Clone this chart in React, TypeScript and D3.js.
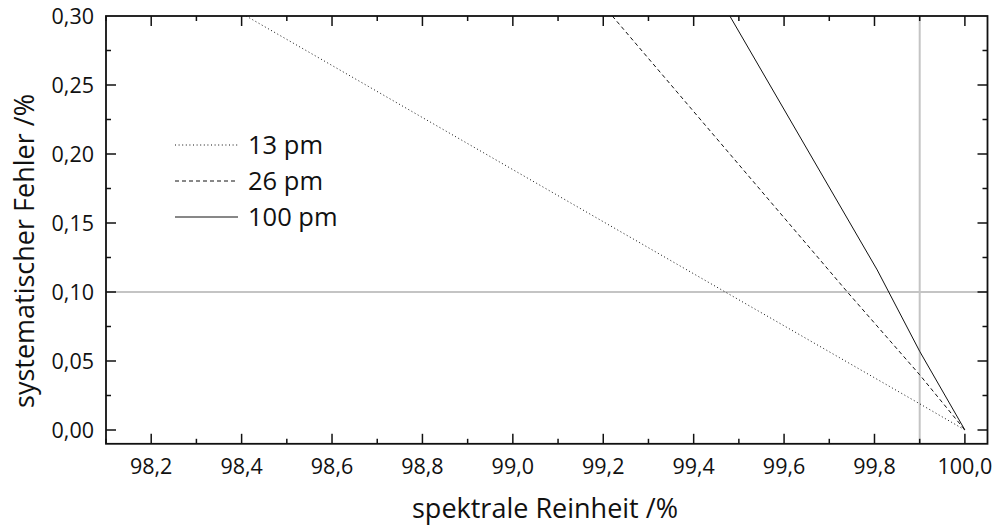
import React from "react";
import * as d3 from "d3";

// Reinheit (x) und Fehler (y), Werte aus dem Bild gelesen
const purity13 = [98.41, 99.47, 99.9, 100.0];
const error13 = [0.3, 0.1, 0.019, 0.0];
const purity26 = [99.22, 99.74, 99.9, 100.0];
const error26 = [0.3, 0.1, 0.04, 0.0];
const purity100 = [99.48, 99.806, 99.9, 100.0];
const error100 = [0.3, 0.116, 0.057, 0.0];

const seriesNames = ["13 pm", "26 pm", "100 pm"];
const xTicks = [98.2, 98.4, 98.6, 98.8, 99.0, 99.2, 99.4, 99.6, 99.8, 100.0];
const yTicks = [0.0, 0.05, 0.1, 0.15, 0.2, 0.25, 0.3];
const refX = 99.9;
const refY = 0.1;

const W = 996;
const H = 526;
const left = 106;
const right = 987.5;
const top = 16;
const bottom = 443.8;
const font = "'Open Sans', sans-serif";

const fmt = (v: number, d: number) => v.toFixed(d).replace(".", ",");

const App = () => {
  const x = d3.scaleLinear().domain([98.1, 100.05]).range([left, right]);
  const y = d3.scaleLinear().domain([-0.01, 0.3]).range([bottom, top]);

  const line = d3
    .line<[number, number]>()
    .x(d => x(d[0]))
    .y(d => y(d[1]));

  const series = [
    { name: seriesNames[0], xs: purity13, ys: error13, dash: "1,2.6" },
    { name: seriesNames[1], xs: purity26, ys: error26, dash: "4,3" },
    { name: seriesNames[2], xs: purity100, ys: error100, dash: null },
  ];

  const xMinor = d3.range(98.1, 100.05, 0.1).map(v => +v.toFixed(2));
  const yMinor = d3.range(-0.0, 0.3, 0.025).map(v => +v.toFixed(3));

  return (
    <svg
      width={W}
      height={H}
      style={{ position: "absolute", left: 0, top: 0, background: "#fff" }}
    >
      <defs>
        <clipPath id="plot">
          <rect x={left} y={top} width={right - left} height={bottom - top} />
        </clipPath>
      </defs>

      {/* Hilfslinien */}
      <line x1={left} x2={right} y1={y(refY)} y2={y(refY)} stroke="#c4c4c4" strokeWidth={2} />
      <line x1={x(refX)} x2={x(refX)} y1={top} y2={bottom} stroke="#c4c4c4" strokeWidth={2} />

      <g clipPath="url(#plot)">
        {series.map(s => (
          <path
            key={s.name}
            d={line(s.xs.map((v, i) => [v, s.ys[i]] as [number, number])) || ""}
            fill="none"
            stroke="#111"
            strokeWidth={1}
            strokeDasharray={s.dash || undefined}
          />
        ))}
      </g>

      {/* Ticks */}
      <g stroke="#111" strokeWidth={1.5}>
        {xMinor.map((v, i) => {
          const major = xTicks.some(t => Math.abs(t - v) < 1e-6);
          const len = major ? 10 : 5;
          return (
            <g key={"xt" + i}>
              <line x1={x(v)} x2={x(v)} y1={bottom} y2={bottom - len} />
              <line x1={x(v)} x2={x(v)} y1={top} y2={top + len} />
            </g>
          );
        })}
        {yMinor.map((v, i) => {
          const major = yTicks.some(t => Math.abs(t - v) < 1e-6);
          const len = major ? 10 : 5;
          return (
            <g key={"yt" + i}>
              <line x1={left} x2={left + len} y1={y(v)} y2={y(v)} />
              <line x1={right} x2={right - len} y1={y(v)} y2={y(v)} />
            </g>
          );
        })}
      </g>

      <rect
        x={left}
        y={top}
        width={right - left}
        height={bottom - top}
        fill="none"
        stroke="#111"
        strokeWidth={1.8}
      />

      {/* Achsenbeschriftung */}
      <g fontFamily={font} fontSize={21.5} fill="#111">
        {xTicks.map(v => (
          <text key={"xl" + v} x={x(v)} y={474} textAnchor="middle">
            {fmt(v, 1)}
          </text>
        ))}
        {yTicks.map(v => (
          <text key={"yl" + v} x={94} y={y(v)} dy="0.36em" textAnchor="end">
            {fmt(v, 2)}
          </text>
        ))}
      </g>

      <text
        x={545}
        y={518}
        textAnchor="middle"
        fontFamily={font}
        fontSize={27}
        fill="#111"
      >
        spektrale Reinheit /%
      </text>
      <text
        transform={`translate(34, 251) rotate(-90)`}
        textAnchor="middle"
        fontFamily={font}
        fontSize={27}
        fill="#111"
      >
        systematischer Fehler /%
      </text>

      {/* Legende */}
      <g fontFamily={font} fontSize={25.5} fill="#111">
        {series.map((s, i) => (
          <g key={"lg" + s.name} transform={`translate(175, ${145 + i * 36})`}>
            <line
              x1={0}
              x2={63}
              y1={0}
              y2={0}
              stroke="#111"
              strokeWidth={1}
              strokeDasharray={s.dash || undefined}
            />
            <text x={73} y={0} dy="0.35em">
              {s.name}
            </text>
          </g>
        ))}
      </g>
    </svg>
  );
};

export default App;
